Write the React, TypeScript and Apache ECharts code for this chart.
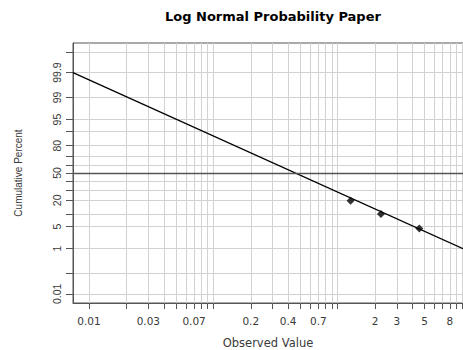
import React, { useEffect, useRef } from "react";
import * as echarts from "echarts";

const chartTitle = "Log Normal Probability Paper";
const xAxisName = "Observed Value";
const yAxisName = "Cumulative Percent";

// x axis (log scale), values in original units
const xRange = [0.00743, 10.2];
const xTickValues = [
  0.01, 0.02, 0.03, 0.04, 0.05, 0.06, 0.07, 0.08, 0.09,
  0.1, 0.2, 0.3, 0.4, 0.5, 0.6, 0.7, 0.8, 0.9,
  1, 2, 3, 4, 5, 6, 7, 8, 9, 10,
];
const xLabelValues = [0.01, 0.03, 0.07, 0.2, 0.4, 0.7, 2, 3, 5, 8];

// y axis (normal probability scale), values in percent
const zRange = [-4, 4];
const yTickPercents = [99.99, 99.9, 99, 95, 90, 80, 70, 60, 50, 40, 30, 20, 10, 5, 1, 0.1, 0.01];
const yLabelPercents = [99.9, 99, 95, 80, 50, 20, 5, 1, 0.01];

// observations
const obsValues = [1.27, 2.23, 4.54];
const obsPercents = [19.7, 10.3, 4.4];

// fitted line end points
const fitValues = [0.00743, 10.2];
const fitPercents = [99.9, 1.0];

const medianPercent = 50;

// inverse standard normal CDF (Acklam)
function probit(p: number): number {
  const a = [-3.969683028665376e1, 2.209460984245205e2, -2.759285104469687e2, 1.38357751867269e2, -3.066479806614716e1, 2.506628277459239];
  const b = [-5.447609879822406e1, 1.615858368580409e2, -1.556989798598866e2, 6.680131188771972e1, -1.328068155288572e1];
  const c = [-7.784894002430293e-3, -3.223964580411365e-1, -2.400758277161838, -2.549732539343734, 4.374664141464968, 2.938163982698783];
  const d = [7.784695709041462e-3, 3.224671290700398e-1, 2.445134137142996, 3.754408661907416];
  const pl = 0.02425;
  if (p < pl) {
    const q = Math.sqrt(-2 * Math.log(p));
    return (((((c[0] * q + c[1]) * q + c[2]) * q + c[3]) * q + c[4]) * q + c[5]) /
      ((((d[0] * q + d[1]) * q + d[2]) * q + d[3]) * q + 1);
  }
  if (p > 1 - pl) {
    const q = Math.sqrt(-2 * Math.log(1 - p));
    return -(((((c[0] * q + c[1]) * q + c[2]) * q + c[3]) * q + c[4]) * q + c[5]) /
      ((((d[0] * q + d[1]) * q + d[2]) * q + d[3]) * q + 1);
  }
  const q = p - 0.5;
  const r = q * q;
  return (((((a[0] * r + a[1]) * r + a[2]) * r + a[3]) * r + a[4]) * r + a[5]) * q /
    (((((b[0] * r + b[1]) * r + b[2]) * r + b[3]) * r + b[4]) * r + 1);
}

const zOf = (pct: number) => probit(pct / 100);
const lx = (v: number) => Math.log10(v);

export default function App() {
  const ref = useRef<HTMLDivElement>(null);
  useEffect(() => {
    if (!ref.current) return;
    const chart = echarts.init(ref.current, null, { renderer: "svg" });
    const textColor = "#3a3a3a";
    const axisColor = "#555";
    const gridColor = "#d2d2d2";
    chart.setOption({
      animation: false,
      backgroundColor: "#fff",
      title: {
        text: chartTitle,
        left: 160,
        top: 5,
        textStyle: { fontFamily: "DejaVu Sans", fontWeight: "bold", fontSize: 13, color: "#000" },
      },
      grid: {
        left: 73,
        top: 43,
        right: 0,
        bottom: 47,
        show: true,
        borderColor: axisColor,
        borderWidth: 1,
        containLabel: false,
        outerBoundsMode: "none",
      },
      xAxis: {
        type: "value",
        min: lx(xRange[0]),
        max: lx(xRange[1]),
        name: xAxisName,
        nameLocation: "middle",
        nameGap: 34,
        nameTextStyle: { fontFamily: "DejaVu Sans", fontSize: 11.5, color: textColor },
        axisLine: { show: true, onZero: false, lineStyle: { color: axisColor, width: 1 } },
        axisTick: {
          show: true,
          inside: false,
          length: 6,
          customValues: xTickValues.map(lx),
          lineStyle: { color: axisColor },
        },
        axisLabel: {
          customValues: xLabelValues.map(lx),
          margin: 12,
          fontFamily: "DejaVu Sans",
          fontSize: 10.5,
          color: textColor,
          hideOverlap: false,
          formatter: (v: number) => {
            const t = xLabelValues.find((t) => Math.abs(lx(t) - v) < 1e-6);
            return t === undefined ? "" : String(t);
          },
        },
        splitLine: { show: true, lineStyle: { color: gridColor, width: 1 } },
      },
      yAxis: {
        type: "value",
        min: zRange[0],
        max: zRange[1],
        name: yAxisName,
        nameLocation: "middle",
        nameGap: 50,
        nameTextStyle: { fontFamily: "Liberation Sans", fontSize: 10, color: textColor },
        axisLine: { show: true, onZero: false, lineStyle: { color: axisColor, width: 1 } },
        axisTick: {
          show: true,
          inside: false,
          length: 7,
          customValues: yTickPercents.map(zOf),
          lineStyle: { color: axisColor },
        },
        axisLabel: {
          customValues: yLabelPercents.map(zOf),
          rotate: 90,
          margin: 11,
          fontFamily: "Liberation Sans",
          fontSize: 10.5,
          color: textColor,
          hideOverlap: false,
          formatter: (v: number) => {
            const p = yLabelPercents.find((p) => Math.abs(zOf(p) - v) < 1e-6);
            return p === undefined ? "" : String(p);
          },
        },
        splitLine: { show: true, lineStyle: { color: gridColor, width: 1 } },
      },
      series: [
        {
          type: "line",
          data: fitValues.map((v, i) => [lx(v), zOf(fitPercents[i])]),
          showSymbol: false,
          symbol: "none",
          lineStyle: { color: "#000", width: 1.3 },
          silent: true,
          markLine: {
            silent: true,
            symbol: "none",
            label: { show: false },
            lineStyle: { color: "#555", width: 1.3, type: "solid" },
            data: [{ yAxis: zOf(medianPercent) }],
          },
          z: 3,
        },
        {
          type: "scatter",
          data: obsValues.map((v, i) => [lx(v), zOf(obsPercents[i])]),
          symbol: "diamond",
          symbolSize: 8,
          itemStyle: { color: "#000" },
          z: 4,
        },
      ],
    });
    return () => chart.dispose();
  }, []);
  return (
    <div
      ref={ref}
      style={{ position: "fixed", left: 0, top: 0, width: 463, height: 350 }}
    />
  );
}
